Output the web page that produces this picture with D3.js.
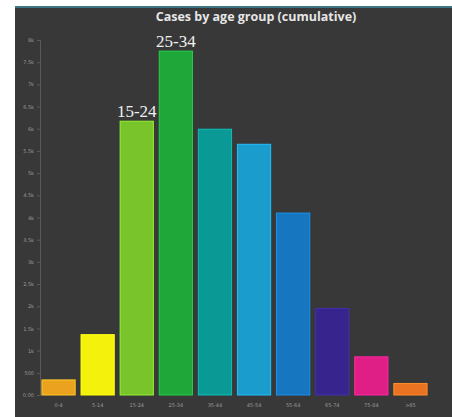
<!DOCTYPE html>
<html>
<head>
<meta charset="utf-8">
<script src="https://cdn.jsdelivr.net/npm/d3@7"></script>
<style>
  body { margin: 0; background: #fff; }
  svg { display: block; }
</style>
</head>
<body>
<svg id="chart" width="452" height="417"></svg>
<script>
var ageGroups = ["0-4", "5-14", "15-24", "25-34", "35-44", "45-54", "55-64", "65-74", "75-84", ">85"];
var cases = [340, 1360, 6170, 7750, 5990, 5650, 4100, 1950, 860, 260];
var barColors = ["#eba21f", "#f4f20c", "#78c42a", "#1fa73a", "#0b9996", "#1a9ccc", "#1676bf", "#37258d", "#e01f86", "#ea7322"];
var yTicks = [0, 500, 1000, 1500, 2000, 2500, 3000, 3500, 4000, 4500, 5000, 5500, 6000, 6500, 7000, 7500, 8000];
var annotated = ["15-24", "25-34"];

var svg = d3.select("#chart");

// dark dashboard panel
svg.append("rect")
    .attr("x", 15).attr("y", 7)
    .attr("width", 437).attr("height", 410)
    .attr("fill", "#383838");
svg.append("rect")
    .attr("x", 15).attr("y", 6)
    .attr("width", 437).attr("height", 2)
    .attr("fill", "#3f7480");

svg.append("text")
    .attr("x", 256).attr("y", 21)
    .attr("text-anchor", "middle")
    .attr("font-family", "Open Sans, sans-serif")
    .attr("font-weight", "bold")
    .attr("font-size", 12.5)
    .attr("fill", "#e6e6e6")
    .text("Cases by age group (cumulative)");

var x = d3.scaleBand()
    .domain(ageGroups)
    .range([39, 430])
    .paddingInner(0.15)
    .paddingOuter(0.075);

var y = d3.scaleLinear()
    .domain([0, 8000])
    .range([395, 40]);

var fmt = function(d) { return d == 0 ? "0.00" : (d >= 1000 ? d3.format("~")(d / 1000) + "k" : d); };

var yAxis = svg.append("g")
    .attr("transform", "translate(40,0)")
    .call(d3.axisLeft(y).tickValues(yTicks).tickSize(3).tickFormat(fmt));
yAxis.select(".domain").attr("stroke", "#5a5a5a");
yAxis.selectAll(".tick line").attr("stroke", "#5a5a5a");
yAxis.selectAll("text")
    .attr("fill", "#9a9a9a")
    .attr("font-family", "DejaVu Sans, sans-serif")
    .attr("font-size", 5);

var xAxis = svg.append("g")
    .attr("transform", "translate(0,397)")
    .call(d3.axisBottom(x).tickSize(0).tickPadding(6));
xAxis.select(".domain").remove();
xAxis.selectAll("text")
    .attr("fill", "#9a9a9a")
    .attr("font-family", "DejaVu Sans, sans-serif")
    .attr("font-size", 5);

var data = ageGroups.map(function(g, i) { return { group: g, value: cases[i], color: barColors[i] }; });

svg.selectAll(".bar")
    .data(data)
  .enter().append("rect")
    .attr("class", "bar")
    .attr("x", function(d) { return x(d.group); })
    .attr("y", function(d) { return y(d.value); })
    .attr("width", x.bandwidth())
    .attr("height", function(d) { return y(0) - y(d.value); })
    .attr("fill", function(d) { return d.color; })
    .attr("stroke", function(d) { return d3.color(d.color).brighter(0.6); })
    .attr("stroke-width", 1);

svg.selectAll(".note")
    .data(data.filter(function(d) { return annotated.indexOf(d.group) >= 0; }))
  .enter().append("text")
    .attr("class", "note")
    .attr("x", function(d) { return x(d.group) + x.bandwidth() / 2; })
    .attr("y", function(d) { return y(d.value) - 4; })
    .attr("text-anchor", "middle")
    .attr("font-family", "Liberation Serif, serif")
    .attr("font-size", 17)
    .attr("fill", "#f0f0f0")
    .text(function(d) { return d.group; });
</script>
</body>
</html>
